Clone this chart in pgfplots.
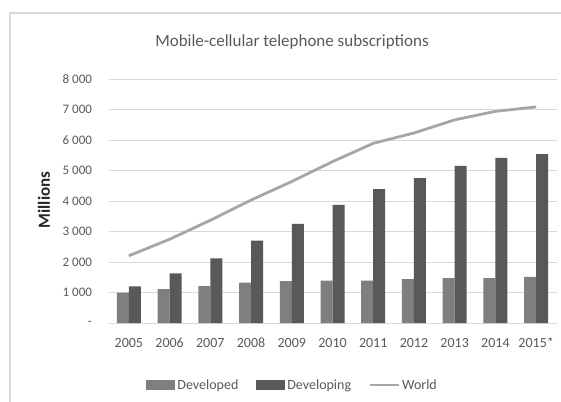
\documentclass[border=0pt]{standalone}
\usepackage{pgfplots}
\pgfplotsset{compat=1.18}
\usepackage{fontspec}
\setmainfont{Carlito}
\definecolor{devd}{HTML}{7F7F7F}
\definecolor{devg}{HTML}{595959}
\definecolor{wld}{HTML}{A6A6A6}
\definecolor{txt}{HTML}{595959}
\definecolor{grd}{HTML}{D9D9D9}
\pgfplotsset{
  boxlegend/.style={legend image code/.code={\fill[##1] (0pt,-5pt) rectangle (29pt,5pt);}},
  linelegend/.style={legend image code/.code={\draw[##1, line width=2pt] (0pt,0pt) -- (29pt,0pt);}},
}
\begin{document}
\begin{tikzpicture}[x=1pt,y=1pt]
\path[use as bounding box] (0,0) rectangle (561,401);
\draw[grd, line width=1.2pt] (10,-5) -- (10,388) -- (570,388);
\begin{axis}[
  at={(108.5pt,78pt)}, anchor=south west,
  scale only axis, width=448pt, height=244pt,
  xmin=-0.5, xmax=10.5, ymin=0, ymax=8000,
  axis line style={draw=none},
  major tick length=0pt,
  ymajorgrids, grid style={grd, line width=0.8pt},
  ytick={0,1000,...,8000},
  yticklabels={-\hspace{6pt},1 000,2 000,3 000,4 000,5 000,6 000,7 000,8 000},
  yticklabel style={font=\fontsize{13}{15}\selectfont, text=txt, xshift=-13pt},
  xtick={0,...,10},
  xticklabels={2005,2006,2007,2008,2009,2010,2011,2012,2013,2014,2015*},
  xticklabel style={font=\fontsize{14}{16}\selectfont, text=txt, anchor=base, yshift=-24.5pt},
  legend columns=3,
  legend style={at={(0.411,-0.254)}, anchor=center, draw=none, fill=none,
    font=\fontsize{14}{16}\selectfont, text=txt,
    /tikz/every even column/.append style={column sep=16pt}},
  legend cell align=left,
]
\addplot[ybar, bar width=12pt, bar shift=-6pt, fill=devd, draw=none, boxlegend]
  coordinates {(0,1000) (1,1110) (2,1210) (3,1320) (4,1370) (5,1390) (6,1390) (7,1440) (8,1470) (9,1470) (10,1510)};
\addlegendentry{Developed}
\addplot[ybar, bar width=12pt, bar shift=6pt, fill=devg, draw=none, boxlegend]
  coordinates {(0,1200) (1,1630) (2,2120) (3,2700) (4,3250) (5,3870) (6,4390) (7,4750) (8,5150) (9,5410) (10,5540)};
\addlegendentry{Developing}
\addplot[wld, line width=2.8pt, no marks, linelegend]
  coordinates {(0,2205) (1,2745) (2,3368) (3,4030) (4,4640) (5,5290) (6,5890) (7,6230) (8,6660) (9,6940) (10,7085)};
\addlegendentry{World}
\end{axis}
\node[text=txt, font=\fontsize{17}{20}\selectfont] at (292,359) {Mobile-cellular telephone subscriptions};
\node[rotate=90, font=\bfseries\fontsize{17}{20}\selectfont, text=black!85] at (44,201) {Millions};
\end{tikzpicture}
\end{document}
